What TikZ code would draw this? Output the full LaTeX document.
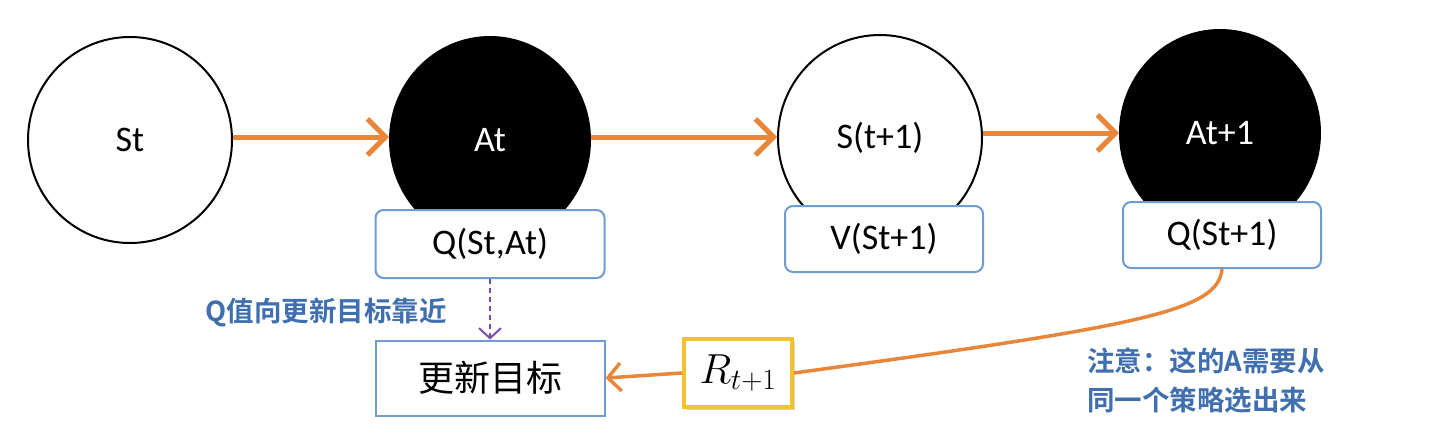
\RequirePackage{fix-cm}
\documentclass[tikz,border=0pt]{standalone}
\usepackage{fontspec}
\setmainfont{Carlito}
\newfontfamily\cjk{Noto Sans CJK SC}
\newfontfamily\cjkb{Noto Sans CJK SC Bold}
\usetikzlibrary{arrows.meta,shadows,shapes.geometric}
\definecolor{orng}{HTML}{E8873A}
\definecolor{boxblue}{HTML}{6F9BD1}
\definecolor{txtblue}{HTML}{3F6FAE}
\definecolor{purp}{HTML}{7A4BB5}
\definecolor{ylw}{HTML}{F2C230}
\tikzset{
  wnode/.style={draw=black,line width=2pt,fill=white,ellipse,minimum width=204pt,minimum height=206pt,inner sep=0pt,font=\fontsize{36}{38}\selectfont},
  bnode/.style={draw=black,line width=2pt,fill=black,text=white,ellipse,minimum width=200pt,minimum height=206pt,inner sep=0pt,font=\fontsize{36}{38}\selectfont},
  valbox/.style={draw=boxblue,line width=2pt,fill=white,rounded corners=8pt,minimum width=198pt,minimum height=66pt,inner sep=0pt,font=\fontsize{36}{38}\selectfont},
  flow/.style={draw=orng,line width=5pt,-{Straight Barb[length=18pt,width=36pt,line width=5pt]}},
  thinflow/.style={draw=orng,line width=3.5pt},
  note/.style={text=txtblue,font=\cjkb\fontsize{27.5}{39}\selectfont,align=left,inner sep=0pt}
}
\begin{document}
\begin{tikzpicture}[x=1pt,y=-1pt]
\useasboundingbox (0,0) rectangle (1432,442);
\node[wnode] (st) at (130,140) {St};
\node[bnode] (at) at (490,140) {At};
\node[wnode] (st1) at (880,138) {S(t+1)};
\node[bnode] (at1) at (1220,133) {At+1};
\node[valbox,minimum width=229pt,minimum height=68pt] (q) at (490,244) {Q(St,At)};
\node[valbox] (v) at (884,239) {V(St+1)};
\node[valbox] (q1) at (1222,235) {Q(St+1)};
\node[draw=boxblue,line width=2pt,fill=white,minimum width=229pt,minimum height=75pt,inner sep=0pt,font=\cjk\fontsize{36}{38}\selectfont] (goal) at (490,378) {更新目标};
\node[draw=ylw,line width=3.5pt,fill=white,minimum width=108pt,minimum height=68pt,inner sep=0pt,drop shadow={shadow xshift=3pt,shadow yshift=-3pt,opacity=0.35},font=\fontsize{42}{44}\selectfont] (r) at (738,373) {$R_{t+1}$};
\draw[flow] (st.east |- 0,137) -- (at.west |- 0,137);
\draw[flow] (at.east |- 0,137) -- (st1.west |- 0,137);
\draw[flow] (st1.east |- 0,133) -- (at1.west |- 0,133);
\draw[thinflow] (q1.south) .. controls (1218,310) and (1150,325) .. (r.east);
\draw[thinflow,-{Straight Barb[length=13pt,width=28pt,line width=3.5pt]}] (r.west) -- (goal.east);
\draw[purp,line width=2pt,dash pattern=on 5pt off 4pt,-{Straight Barb[length=10pt,width=22pt,line width=2pt]}] (q.south) -- (goal.north);
\node[note,anchor=east] (lbl) at (447,313) {Q值向更新目标靠近};
\node[note,anchor=west] (warn1) at (1087,361) {注意：这的A需要从};
\node[note,anchor=west] (warn2) at (1087,400) {同一个策略选出来};
\end{tikzpicture}
\end{document}
